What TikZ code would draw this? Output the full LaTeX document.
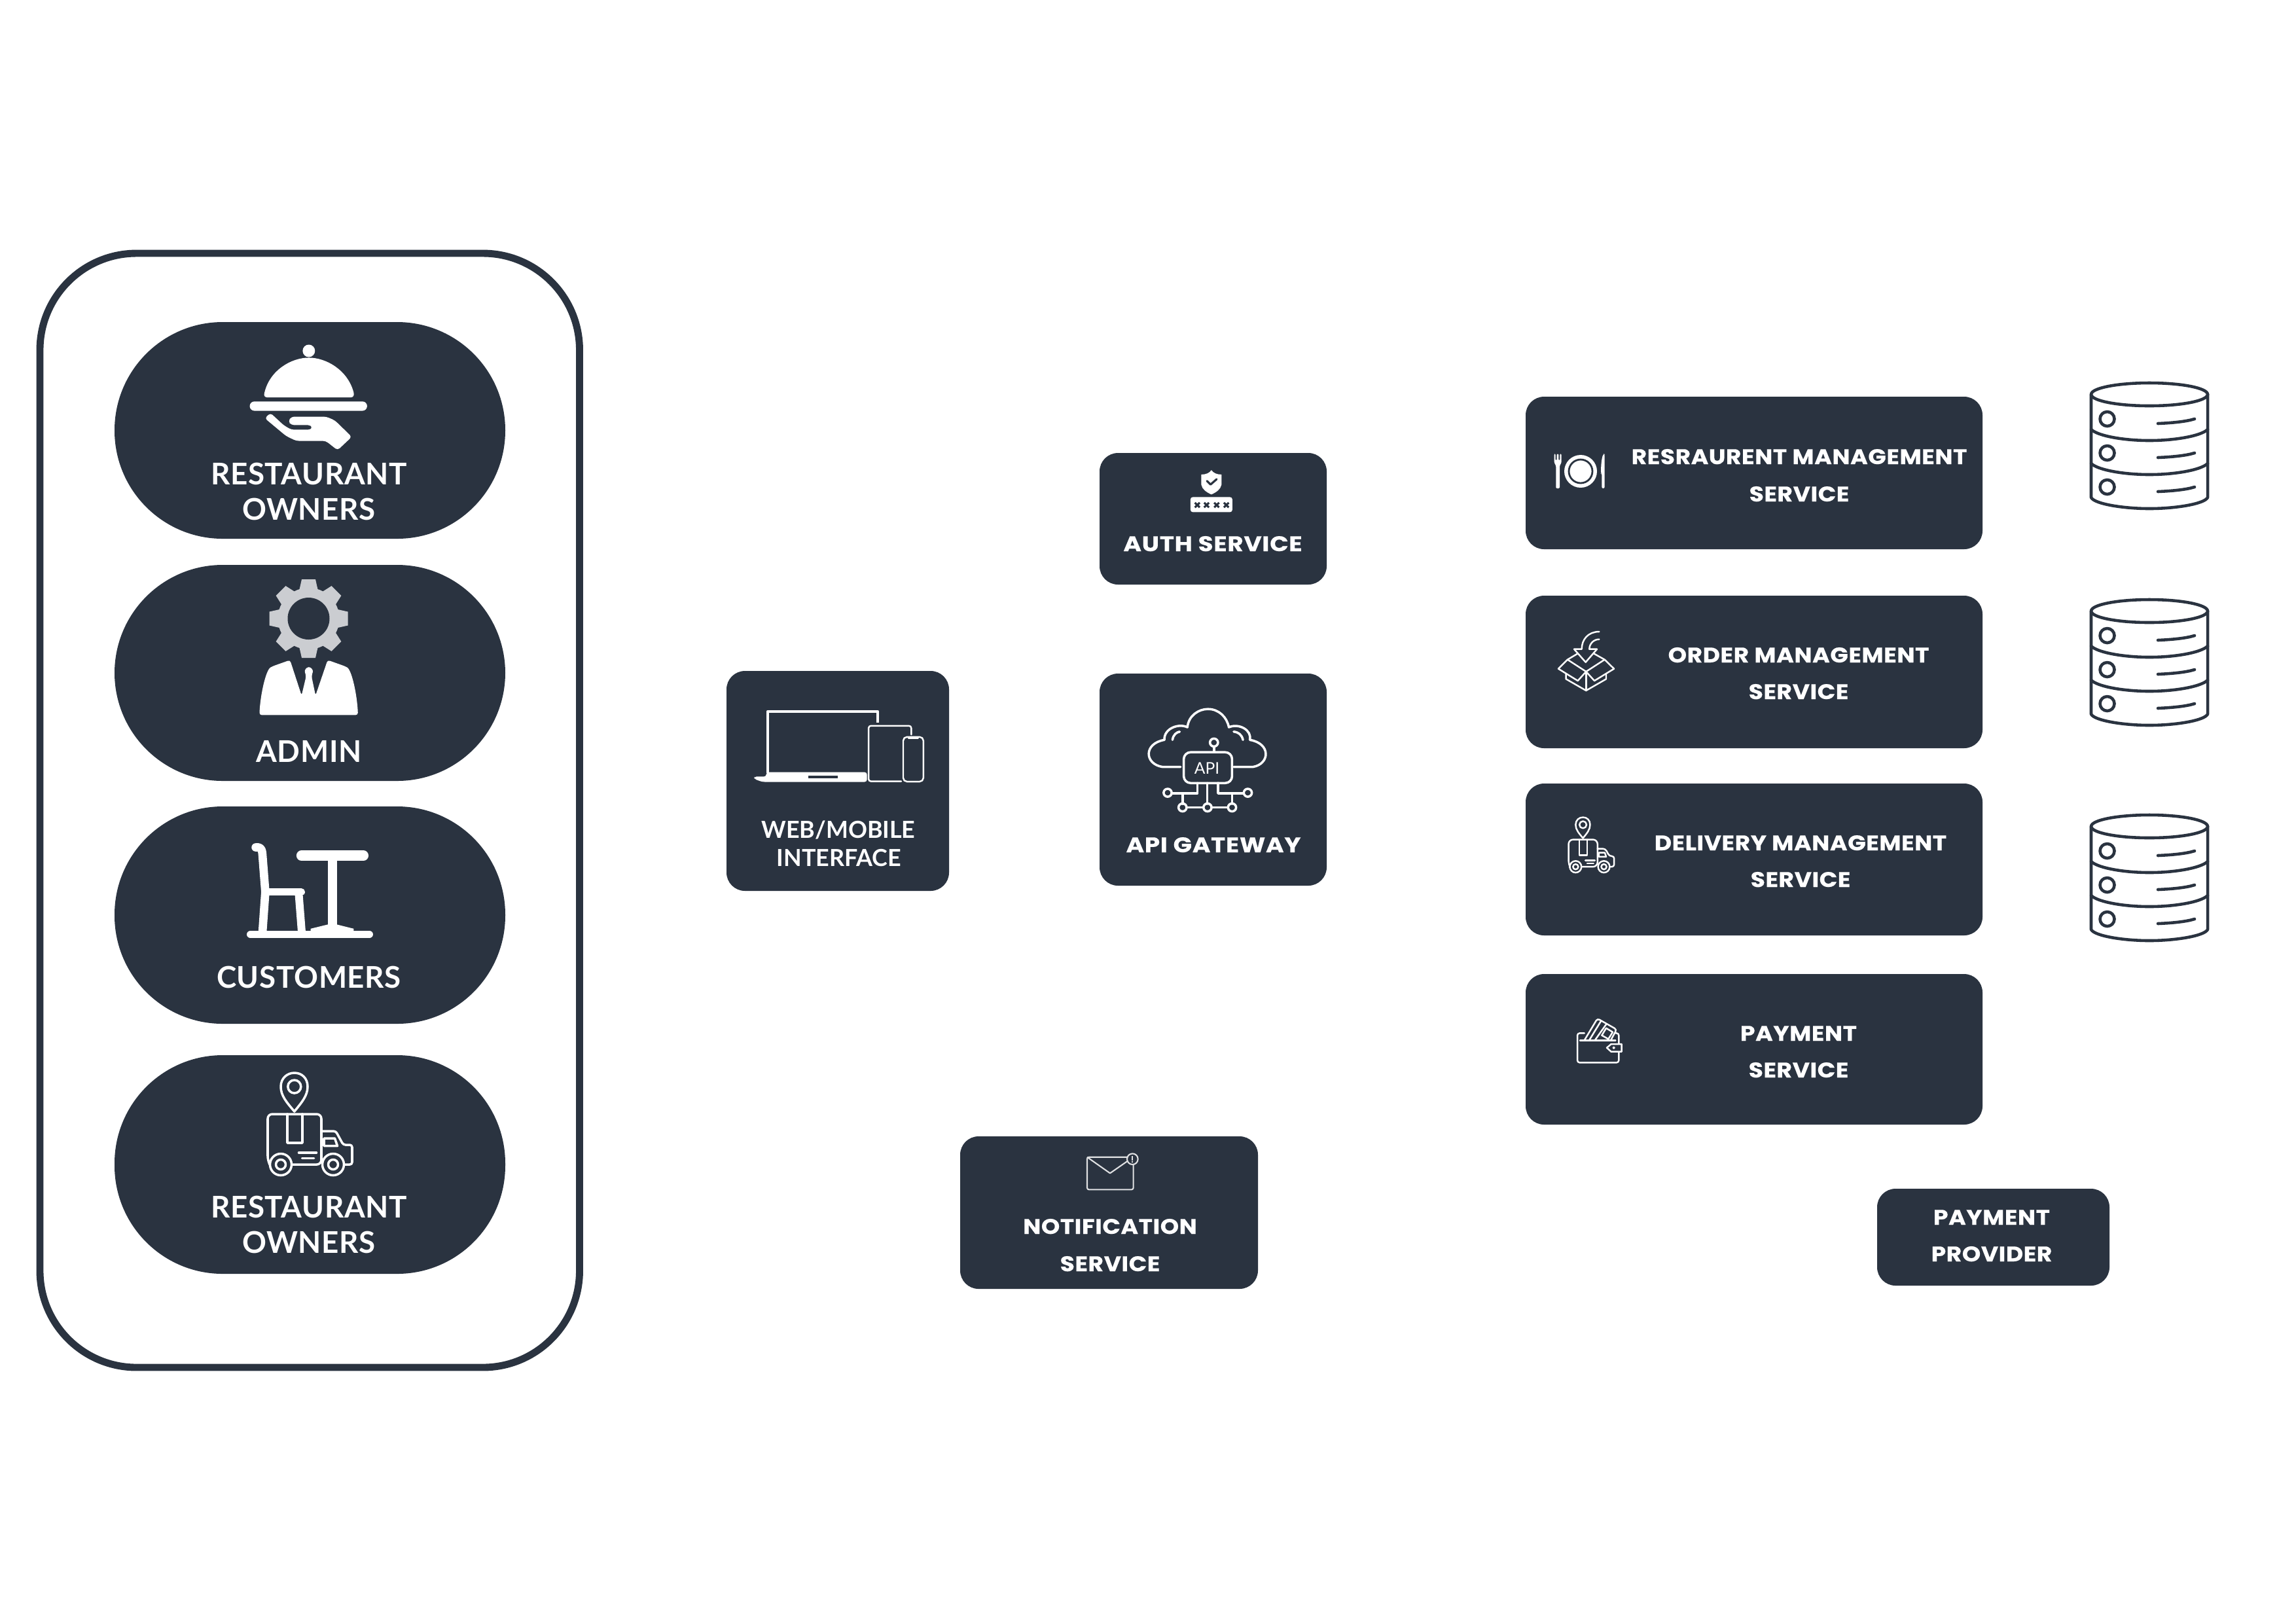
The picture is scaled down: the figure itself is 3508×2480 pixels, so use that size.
\documentclass[tikz,border=0pt]{standalone}
\usepackage{fontspec}
\setmainfont{Lato}
\newfontfamily\leftfont[LetterSpace=1.5]{Lato}
\newfontfamily\midfont{Lato}
\newfontfamily\svcfont[LetterSpace=1.5,FakeStretch=1.12,FakeBold=0.3]{Poppins}
\newfontfamily\svcwidefont[LetterSpace=2,FakeStretch=1.16,FakeBold=0.3]{Poppins}
\definecolor{navy}{HTML}{2A3340}
\definecolor{gearg}{HTML}{CBCDD1}
\tikzset{
  darkbox/.style={fill=navy,draw=none,inner sep=0pt,outer sep=0pt,rounded corners=8pt},
  pill/.style={fill=navy,draw=none,inner sep=0pt,outer sep=0pt,rounded corners=47pt},
  frame/.style={draw=navy,line width=3.1pt,inner sep=0pt,outer sep=0pt,rounded corners=42pt},
  bigtxt/.style={text=white,anchor=base,inner sep=0pt,font=\leftfont\bfseries\fontsize{13}{13}\selectfont},
  midtxt/.style={text=white,anchor=base,inner sep=0pt,font=\midfont\bfseries\fontsize{10.2}{10.2}\selectfont},
  svctxt/.style={text=white,anchor=base,inner sep=0pt,font=\svcfont\bfseries\fontsize{9.2}{9.2}\selectfont},
  svcwide/.style={text=white,anchor=base,inner sep=0pt,font=\svcwidefont\bfseries\fontsize{9.2}{9.2}\selectfont},
  iconline/.style={draw=white,line width=1pt,line join=round,line cap=round},
  thinline/.style={draw=white,line width=.7pt,line join=round,line cap=round},
  dbline/.style={draw=navy,line width=1.3pt,line join=round,line cap=round},
}
\newcommand{\pxnode}[6]{\node[#1,minimum width={(#5-#3)*0.01cm},minimum height={(#6-#4)*0.01cm}] (#2) at ({(#3+#5)/2},{(#4+#6)/2}) {};}
\newcommand{\truckicon}{%
  % pin
  \draw (41.8,60) .. controls (30,46) and (21,36) .. (21,22) .. controls (21,9) and (31,1) .. (41.8,1) .. controls (53,1) and (62,9) .. (62,22) .. controls (62,36) and (53,46) .. (41.8,60) -- cycle;
  \draw (41.8,22) circle (10);
  % box
  \draw[rounded corners=2pt] (4,141) -- (1,135) -- (1,64) -- (83,64) -- (83,141) -- (4,141);
  \draw (31,64) -- (31,108) -- (54,108) -- (54,64);
  % cab
  \draw[rounded corners=1pt] (83,90) -- (105,90) -- (116.5,111) -- (130,111) -- (130,141) -- (118,141);
  \draw (87,101) -- (103.5,101) -- (107.5,112.6) -- (87,112.6) -- cycle;
  \draw (48.5,123) -- (75.5,123);
  \draw (53.5,131.5) -- (71.7,131.5);
  % wheels
  \foreach \wx in {21,101}{
    \path[fill=navy] (\wx,141) circle (16.5);
    \draw (\wx,141) circle (16.5);
    \draw (\wx,141) circle (7.5);
  }
}
\newcommand{\dbicon}[2]{%
  \begin{scope}[shift={(#1,#2)}]
    \draw[dbline] (3284,602.5) ellipse (89 and 17.5);
    \draw[dbline] (3195,602.5) -- (3195,760) .. controls (3200,770) and (3245,777) .. (3284,777) .. controls (3323,777) and (3368,770) .. (3373,760) -- (3373,602.5);
    \foreach \dy in {0,52}{
      \draw[dbline] (3195,656+\dy) .. controls (3205,666+\dy) and (3245,673+\dy) .. (3284,673+\dy) .. controls (3323,673+\dy) and (3363,666+\dy) .. (3373,656+\dy);
    }
    \foreach \dy in {0,52,104}{
      \draw[dbline] (3219.5,640+\dy) circle (11);
      \draw[dbline] (3297,647+\dy) .. controls (3320,646+\dy) and (3340,644+\dy) .. (3353,640+\dy);
    }
  \end{scope}
}
\begin{document}
\begin{tikzpicture}[x=0.01cm,y=-0.01cm]
\path[use as bounding box,fill=white] (0,0) rectangle (3508,2480);

% actors
\pxnode{frame}{actors}{61}{387}{885.5}{2089}
\pxnode{pill}{pillA}{175}{492}{772}{823}
\pxnode{pill}{pillB}{175}{863}{772}{1193}
\pxnode{pill}{pillC}{175}{1232}{772}{1564}
\pxnode{pill}{pillD}{175}{1612}{772}{1946}

% cloche
\begin{scope}[shift={(158,480)},xscale=.41026,yscale=.47436]
  \fill[white] (765,118) ellipse (23 and 20);
  \fill[white] (600,252) .. controls (620,180) and (700,140) .. (765,140) .. controls (830,140) and (910,180) .. (932,252) .. controls (935,262) and (930,268) .. (920,268) -- (612,268) .. controls (600,268) and (596,262) .. (600,252) -- cycle;
  \fill[white,rounded corners=2pt] (545,281) rectangle (982,311);
  \fill[white,rounded corners=1.2pt] (601,335) -- (622,318) -- (672,358) -- (700,372) -- (772,372) -- (778,365) -- (772,357) -- (700,357) -- (688,345) -- (700,330) -- (830,330) -- (862,342) -- (925,395) -- (872,438) -- (828,408) -- (718,408) -- (680,392) -- cycle;
\end{scope}

% admin
\begin{scope}[shift={(471.5,945)}]
  \fill[gearg] (0,0) circle (47);
  \foreach \ang in {0,45,...,315}{
    \fill[gearg,rotate=\ang] (-15,-40) -- (-10.5,-60) -- (10.5,-60) -- (15,-40) -- cycle;
  }
  \fill[navy] (0,0) circle (32);
\end{scope}
\begin{scope}[shift={(158,478)},xscale=.41026,yscale=.47436]
  \fill[white,rounded corners=1pt] (695,1118) -- (738,1232) -- (755,1170) -- (748,1150) -- (765,1138) -- (782,1150) -- (775,1170) -- (790,1232) -- (835,1118) -- (900,1138) .. controls (925,1150) and (945,1230) .. (948,1295) -- (581,1295) .. controls (584,1230) and (605,1150) .. (630,1138) -- cycle;
\end{scope}

% table and chair
\begin{scope}[shift={(158,1219)},xscale=.41026,yscale=.48718]
  \draw[white,line width=3.6pt,line cap=round,line join=round] (567,155) -- (578,155) .. controls (588,157) and (591,165) .. (592,175) -- (603,295) -- (592,425);
  \draw[white,line width=3.2pt,line cap=round] (603,295) -- (737,295);
  \draw[white,line width=3.4pt] (727,295) -- (739,425);
  \draw[white,line width=3.3pt,line cap=round] (548,428) -- (990,428);
  \draw[white,line width=4.5pt,line cap=round] (738,181) -- (968,181);
  \draw[white,line width=4pt] (852,190) -- (852,410);
  \fill[white] (772,410) -- (835,397) -- (870,397) -- (932,410) -- (932,425) -- (772,425) -- cycle;
\end{scope}

% big delivery van
\begin{scope}[shift={(408,1638)},iconline]
  \truckicon
\end{scope}

\node[bigtxt] (ownersA1) at (472,740) {RESTAURANT};
\node[bigtxt] (ownersA2) at (472,794) {OWNERS};
\node[bigtxt] (admin) at (472,1164) {ADMIN};
\node[bigtxt] (customers) at (472,1509) {CUSTOMERS};
\node[bigtxt] (ownersB1) at (472,1860) {RESTAURANT};
\node[bigtxt] (ownersB2) at (472,1914) {OWNERS};

% middle boxes
\pxnode{darkbox}{web}{1110}{1025}{1450}{1361}
\pxnode{darkbox}{auth}{1680}{692}{2027}{893}
\pxnode{darkbox}{api}{1680}{1029}{2027}{1353}
\pxnode{darkbox}{notif}{1467}{1736}{1922}{1969}

% web icon
\begin{scope}[shift={(1100,678)},xscale=.61538,yscale=.44872]
  \draw[white,line width=1.2pt,line join=round] (118,1122) -- (118,912) -- (392,912) -- (392,950);
  \fill[white,rounded corners=1pt] (85,1133) -- (115,1133) -- (115,1118) -- (365,1118) -- (365,1151) -- (105,1151) -- (85,1141) -- cycle;
  \fill[navy] (220,1130) rectangle (292,1138);
  \draw[thinline,rounded corners=1pt] (475,990) -- (475,960) -- (369,960) -- (369,1149) -- (450,1149);
  \draw[thinline,rounded corners=1.6pt] (455,998) rectangle (505,1150);
  \draw[thinline] (468,1002) -- (492,1002);
\end{scope}
\node[midtxt] (webA) at (1281,1280) {WEB/MOBILE};
\node[midtxt] (webB) at (1282,1323) {INTERFACE};

% auth icon
\begin{scope}[shift={(1097,680)},xscale=.61538,yscale=.44872]
  \fill[white] (1200,100) .. controls (1212,100) and (1220,95) .. (1225,85) .. controls (1230,95) and (1238,100) .. (1250,100) -- (1250,135) .. controls (1248,150) and (1238,160) .. (1225,168) .. controls (1212,160) and (1202,150) .. (1200,135) -- cycle;
  \draw[navy,line width=.9pt,line cap=round,line join=round] (1214,122) -- (1223,134) -- (1238,116);
  \fill[white,rounded corners=1pt] (1173,177) rectangle (1277,228);
  \foreach \cx in {1190,1213,1238,1262}{
    \draw[navy,line width=.9pt] (\cx-6,196) -- (\cx+6,212) (\cx+6,196) -- (\cx-6,212);
  }
\end{scope}
\node[svcwide] (authT) at (1853,842) {AUTH SERVICE};

% api icon
\begin{scope}[shift={(1096,678)},xscale=.61538,yscale=.44872,iconline]
  \draw (1150,1100) -- (1105,1100) .. controls (1060,1090) and (1058,1020) .. (1110,1008) .. controls (1108,970) and (1145,950) .. (1167,965) .. controls (1170,925) and (1195,903) .. (1218,903) .. controls (1245,903) and (1265,930) .. (1270,965) .. controls (1295,950) and (1328,975) .. (1322,1008) .. controls (1375,1020) and (1372,1090) .. (1330,1100) -- (1282,1100);
  \draw (1130,1008) .. controls (1132,990) and (1140,982) .. (1148,980);
  \draw (1305,1008) .. controls (1302,990) and (1294,982) .. (1282,980);
  \draw[rounded corners=3pt] (1158,1050) rectangle (1278,1155);
  \draw (1233,1050) -- (1233,1031);
  \draw (1233,1017) ellipse (10 and 13.5);
  \draw (1192,1155) -- (1192,1190) -- (1130,1190);
  \draw (1155,1190) -- (1155,1226);
  \draw (1216,1155) -- (1216,1226);
  \draw (1243,1155) -- (1243,1190) -- (1305,1190);
  \draw (1278,1190) -- (1278,1226);
  \draw (1166,1238) -- (1206,1238) (1228,1238) -- (1268,1238);
  \foreach \cx/\cy in {1118/1188,1317/1188,1155/1238,1217/1238,1278/1238}{
    \draw (\cx,\cy) ellipse (10 and 13.5);
  }
\end{scope}
\node[text=white,inner sep=0pt,font=\fontsize{7}{7}\selectfont] (apiTag) at (1844,1174) {API};
\node[svcwide] (apiT) at (1854,1302) {API GATEWAY};

% envelope
\begin{scope}[shift={(1460,1740)},xscale=.3333,yscale=.3333]
  \draw[draw=white!85!navy,line width=.6pt,line join=round,rounded corners=.8pt] (790,83) -- (603,83) -- (603,232) -- (815,232) -- (815,117);
  \draw[draw=white!85!navy,line width=.6pt,line join=round] (603,83) -- (708,157) -- (790,100);
  \draw[draw=white!85!navy,line width=.6pt] (811,92) circle (25);
  \draw[draw=white!85!navy,line width=.6pt] (811,78) -- (811,98) (811,103) -- (811,107);
\end{scope}
\node[svctxt] (notifA) at (1696,1885) {NOTIFICATION};
\node[svctxt] (notifB) at (1696,1942) {SERVICE};

% services
\pxnode{darkbox}{rest}{2331}{606}{3029}{839}
\pxnode{darkbox}{order}{2331}{910}{3029}{1143}
\pxnode{darkbox}{deliv}{2331}{1197}{3029}{1429}
\pxnode{darkbox}{pay}{2331}{1488}{3029}{1718}
\pxnode{darkbox}{prov}{2868}{1816}{3223}{1964}

% plate
\begin{scope}[shift={(2360,670)},xscale=.3333,yscale=.3333]
  \fill[white,rounded corners=.4pt] (44,70) -- (50,70) -- (50,100) -- (56,100) -- (56,70) -- (64,70) -- (64,100) -- (70,100) -- (70,70) -- (77,70) -- (77,110) -- (69,125) -- (69,228) -- (52,228) -- (52,125) -- (44,110) -- cycle;
  \fill[white] (165,150) circle (75);
  \draw[navy,line width=.8pt] (165,150) circle (54);
  \fill[white,rounded corners=.6pt] (271,70) .. controls (262,85) and (258,120) .. (258,160) -- (262,160) -- (262,228) -- (275,228) -- (275,72) -- cycle;
\end{scope}
\node[svctxt] (restA) at (2749,709) {RESRAURENT MANAGEMENT};
\node[svctxt] (restB) at (2749,766) {SERVICE};

% open box
\begin{scope}[shift={(2370,960)},xscale=.3333,yscale=.3333,thinline]
  \draw (220,15) .. controls (170,15) and (140,50) .. (140,95) -- (105,95) -- (158,155) -- (210,95) -- (175,95) .. controls (175,70) and (195,50) .. (220,50);
  \draw (122,115) -- (75,143) -- (33,185) -- (122,240) -- (160,198) -- (198,240) -- (288,185) -- (245,143) -- (195,115);
  \draw (75,143) -- (160,198) -- (245,143);
  \draw (68,208) -- (68,232) -- (160,285) -- (252,232) -- (252,208);
  \draw (160,198) -- (160,285);
\end{scope}
\node[svctxt] (orderA) at (2748,1012) {ORDER MANAGEMENT};
\node[svctxt] (orderB) at (2748,1068) {SERVICE};

% small van
\begin{scope}[shift={(2396,1248)},xscale=.54,yscale=.54,thinline]
  \truckicon
\end{scope}
\node[svctxt] (delivA) at (2751,1299) {DELIVERY MANAGEMENT};
\node[svctxt] (delivB) at (2751,1355) {SERVICE};

% wallet
\begin{scope}[shift={(2390,1550)},xscale=.3333,yscale=.3333,thinline]
  \draw[rounded corners=1pt] (92,85) -- (60,85) -- (60,220) -- (250,220) -- (250,172);
  \draw[rounded corners=1pt] (250,134) -- (250,85) -- (236,85);
  \draw (72,118) -- (235,118);
  \draw[rounded corners=1pt] (92,118) -- (152,18) -- (240,68) -- (214,116);
  \draw (114,118) -- (168,30) (140,118) -- (194,42);
  \draw (172,95) -- (192,62) -- (222,80) -- (202,112) -- cycle;
  \draw (195,152) -- (215,135) -- (263,135) -- (263,170) -- (215,170) -- cycle;
  \fill[white] (227,152) circle (6);
\end{scope}
\node[svctxt] (payA) at (2748,1590) {PAYMENT};
\node[svctxt] (payB) at (2748,1646) {SERVICE};

\node[svctxt] (provA) at (3043,1871) {PAYMENT};
\node[svctxt] (provB) at (3043,1927) {PROVIDER};

% data stores
\dbicon{0}{0}
\dbicon{0}{331}
\dbicon{0}{660}
\end{tikzpicture}
\end{document}
